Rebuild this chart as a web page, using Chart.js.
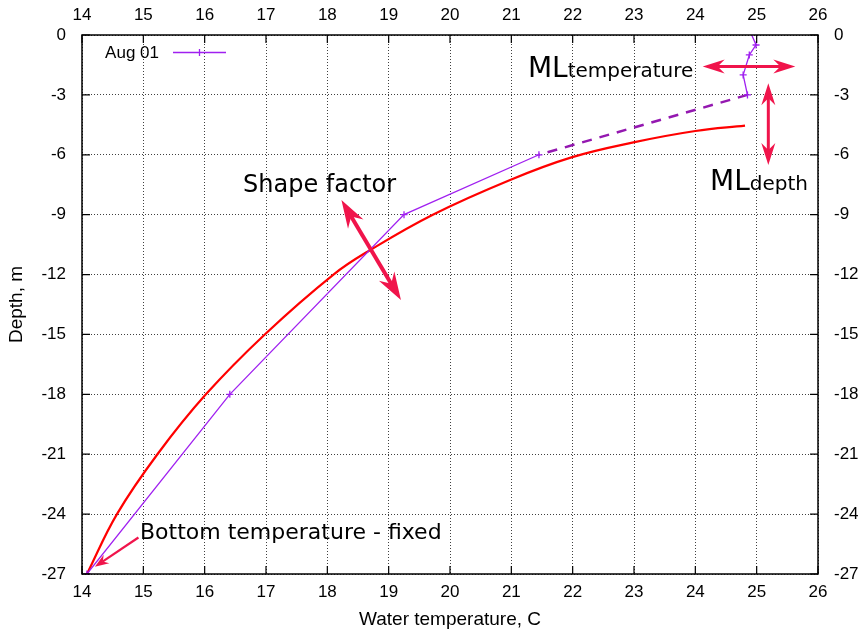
<!DOCTYPE html>
<html>
<head>
<meta charset="utf-8">
<title>Temperature profile</title>
<script src="https://cdn.jsdelivr.net/npm/chart.js@4.4.1/dist/chart.umd.min.js"></script>
<style>
  html, body { margin: 0; padding: 0; background: #fff; }
  #wrap { width: 859px; height: 629px; }
</style>
</head>
<body>
<div id="wrap"><canvas id="profileChart" width="859" height="629"></canvas></div>
<script>
// measured profile (Aug 01)
const profileTemp  = [24.92, 24.99, 24.88, 24.78, 24.85, 21.45, 19.25, 16.41, 14.08];
const profileDepth = [0, -0.5, -1, -2, -3, -6, -9, -18, -27];

// fitted curve
const fitTemp  = [14.08, 14.57, 15.23, 16.02, 16.98, 18.1, 18.7, 19.72, 20.98, 21.98, 22.99, 24.0, 24.81];
const fitDepth = [-27, -24, -21, -18, -15, -12, -10.77, -9, -7.26, -6.13, -5.38, -4.81, -4.54];

// tick labels
const tempTicks  = [14, 15, 16, 17, 18, 19, 20, 21, 22, 23, 24, 25, 26];
const depthTicks = [0, -3, -6, -9, -12, -15, -18, -21, -24, -27];

const legendLabel = 'Aug 01';
const PURPLE = '#a020f0';
const DASHED = '#9418b0';
const ARROW = '#f0144b';

// annotations, in data units (temperature, depth)
const arrows = [
    {from: [24.12, -1.58], to: [25.63, -1.58], both: true, w: 3, len: 22, half: 7},
    {from: [25.19, -2.42], to: [25.19, -6.51], both: true, w: 3, len: 22, half: 7},
    {from: [18.23, -8.27], to: [19.2, -13.28], both: true, w: 4, len: 28, half: 9},
    {from: [14.92, -25.17], to: [14.21, -26.64], both: false, w: 2.2, len: 14, half: 5}
];
const notes = [
    {at: [21.27, -2.10], big: 'ML', small: 'temperature'},
    {at: [24.24, -7.76], big: 'ML', small: 'depth'},
    {at: [16.625, -7.86], text: 'Shape factor', size: 24},
    {at: [14.946, -25.25], text: 'Bottom temperature - fixed', size: 22}
];

function drawHead(ctx, tx, ty, ang, len, half) {
    const dx = Math.cos(ang), dy = Math.sin(ang);
    const bx = tx - dx * len, by = ty - dy * len;
    const nx = tx - dx * len * 0.68, ny = ty - dy * len * 0.68;
    ctx.beginPath();
    ctx.moveTo(tx, ty);
    ctx.lineTo(bx - dy * half, by + dx * half);
    ctx.lineTo(nx, ny);
    ctx.lineTo(bx + dy * half, by - dx * half);
    ctx.closePath();
    ctx.fill();
}

const decorPlugin = {
    id: 'decor',
    afterDraw(chart) {
        const ctx = chart.ctx;
        const area = chart.chartArea;
        const xs = chart.scales.x, ys = chart.scales.y;
        ctx.save();

        // frame
        ctx.strokeStyle = '#000';
        ctx.lineWidth = 1.5;
        ctx.strokeRect(area.left, area.top, area.right - area.left, area.bottom - area.top);

        // inward tick marks on all four sides
        ctx.lineWidth = 1.2;
        ctx.beginPath();
        tempTicks.forEach(v => {
            const px = xs.getPixelForValue(v);
            ctx.moveTo(px, area.bottom); ctx.lineTo(px, area.bottom - 8);
            ctx.moveTo(px, area.top); ctx.lineTo(px, area.top + 8);
        });
        depthTicks.forEach(v => {
            const py = ys.getPixelForValue(v);
            ctx.moveTo(area.left, py); ctx.lineTo(area.left + 8, py);
            ctx.moveTo(area.right, py); ctx.lineTo(area.right - 8, py);
        });
        ctx.stroke();

        // legend
        ctx.font = "17px 'Liberation Sans', Arial, sans-serif";
        ctx.fillStyle = '#000';
        ctx.textAlign = 'right';
        ctx.textBaseline = 'alphabetic';
        ctx.fillText(legendLabel, area.left + 77, area.top + 23);
        const ly = area.top + 17.5;
        ctx.strokeStyle = PURPLE;
        ctx.lineWidth = 1.3;
        ctx.beginPath();
        ctx.moveTo(area.left + 91, ly); ctx.lineTo(area.left + 144, ly);
        ctx.moveTo(area.left + 117.5, ly - 3.5); ctx.lineTo(area.left + 117.5, ly + 3.5);
        ctx.stroke();

        // arrows
        ctx.fillStyle = ARROW;
        ctx.strokeStyle = ARROW;
        arrows.forEach(a => {
            const x1 = xs.getPixelForValue(a.from[0]), y1 = ys.getPixelForValue(a.from[1]);
            const x2 = xs.getPixelForValue(a.to[0]), y2 = ys.getPixelForValue(a.to[1]);
            const ang = Math.atan2(y2 - y1, x2 - x1);
            const cut = a.len * 0.66;
            const sx = a.both ? x1 + Math.cos(ang) * cut : x1;
            const sy = a.both ? y1 + Math.sin(ang) * cut : y1;
            ctx.lineWidth = a.w;
            ctx.beginPath();
            ctx.moveTo(sx, sy);
            ctx.lineTo(x2 - Math.cos(ang) * cut, y2 - Math.sin(ang) * cut);
            ctx.stroke();
            drawHead(ctx, x2, y2, ang, a.len, a.half);
            if (a.both) drawHead(ctx, x1, y1, ang + Math.PI, a.len, a.half);
        });

        // labels
        ctx.fillStyle = '#000';
        ctx.textAlign = 'left';
        notes.forEach(n => {
            const px = xs.getPixelForValue(n.at[0]), py = ys.getPixelForValue(n.at[1]);
            if (n.big) {
                ctx.font = "28px 'DejaVu Sans', sans-serif";
                ctx.fillText(n.big, px, py);
                const w = ctx.measureText(n.big).width;
                ctx.font = "20px 'DejaVu Sans', sans-serif";
                ctx.fillText(n.small, px + w, py);
            } else {
                ctx.font = n.size + "px 'DejaVu Sans', sans-serif";
                ctx.fillText(n.text, px, py);
            }
        });
        ctx.restore();
    }
};

function setTicks(list) {
    return function (scale) {
        scale.ticks = list.map(v => ({value: v}));
    };
}

const gridOpts = {color: 'rgba(0,0,0,0.75)', lineWidth: 1, drawTicks: false};
const tickFont = {size: 17};

Chart.defaults.font.family = "'Liberation Sans', Arial, sans-serif";
Chart.defaults.color = '#000';

new Chart(document.getElementById('profileChart'), {
    type: 'scatter',
    data: {
        datasets: [{
                label: legendLabel,
                data: profileTemp.map((t, i) => ({x: t, y: profileDepth[i]})),
                showLine: true,
                borderColor: PURPLE,
                borderWidth: 1.3,
                pointStyle: 'cross',
                pointRadius: ctx => ctx.dataIndex === 0 ? 0 : 3.5,
                pointBorderColor: PURPLE,
                pointBorderWidth: 1.3,
                tension: 0,
                segment: {
                    borderDash: ctx => ctx.p0DataIndex === 4 ? [10, 8] : undefined,
                    borderWidth: ctx => ctx.p0DataIndex === 4 ? 2.5 : undefined,
                    borderColor: ctx => ctx.p0DataIndex === 4 ? DASHED : undefined
                }
            }, {
                label: 'fit',
                data: fitTemp.map((t, i) => ({x: t, y: fitDepth[i]})),
                showLine: true,
                borderColor: '#ff0000',
                borderWidth: 2.2,
                pointRadius: 0,
                tension: 0.4
            }]
    },
    options: {
        responsive: false,
        animation: false,
        layout: {padding: 0, autoPadding: false},
        plugins: {legend: {display: false}, tooltip: {enabled: false}},
        scales: {
            x: {
                type: 'linear', position: 'bottom', min: 14, max: 26,
                afterBuildTicks: setTicks(tempTicks),
                afterFit: s => { s.height = 55; },
                ticks: {padding: 8, maxRotation: 0, autoSkip: false, font: tickFont},
                grid: gridOpts,
                border: {display: false, dash: [1, 2]},
                title: {display: true, text: 'Water temperature, C', font: {size: 19}, padding: {top: 0, bottom: -2}}
            },
            x2: {
                type: 'linear', position: 'top', min: 14, max: 26,
                afterBuildTicks: setTicks(tempTicks),
                afterFit: s => { s.height = 35; },
                ticks: {padding: 9, maxRotation: 0, autoSkip: false, font: tickFont},
                grid: {display: false, drawTicks: false},
                border: {display: false}
            },
            y: {
                type: 'linear', position: 'left', min: -27, max: 0,
                afterBuildTicks: setTicks(depthTicks),
                afterFit: s => { s.width = 82; },
                ticks: {padding: 16, autoSkip: false, font: tickFont},
                grid: gridOpts,
                border: {display: false, dash: [1, 2]},
                title: {display: true, text: 'Depth, m', font: {size: 19}, padding: {top: 5, bottom: 0}}
            },
            y2: {
                type: 'linear', position: 'right', min: -27, max: 0,
                afterBuildTicks: setTicks(depthTicks),
                afterFit: s => { s.width = 41; },
                ticks: {padding: 16, autoSkip: false, font: tickFont},
                grid: {display: false, drawTicks: false},
                border: {display: false}
            }
        }
    },
    plugins: [decorPlugin]
});
</script>
</body>
</html>
